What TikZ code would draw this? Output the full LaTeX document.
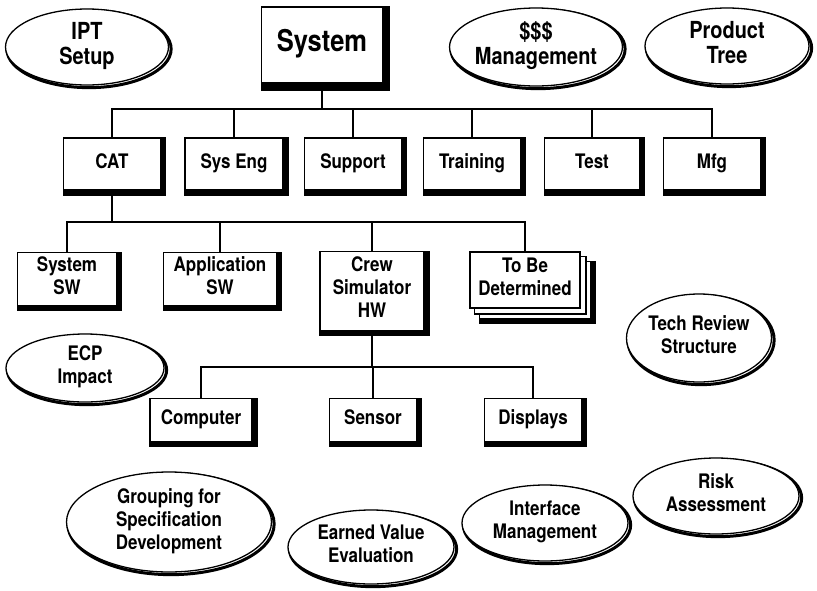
\documentclass[tikz,border=0pt]{standalone}
\usepackage{fontspec}
\setmainfont{TeX Gyre Heros}[FakeStretch=0.85]
\usetikzlibrary{shapes.geometric, backgrounds, calc}

\begin{document}
\begin{tikzpicture}[
            x=1pt, y=-1pt,
            box/.style={
                    rectangle,
                    line width=1.6pt,
                    draw=black,
                    fill=white,
                    align=center,
                    font=\bfseries\fontsize{20}{23}\selectfont,
                    execute at begin node=\strut,
                    execute at end node=\strut,
                    inner sep=0pt
                },
            sheet/.style={
                    fill=white,
                    draw=black,
                    line width=1.4pt
                },
            shadowline/.style={
                    draw=black,
                    line width=#1
                },
            oval/.style={
                    ellipse,
                    line width=1.3pt,
                    draw=black,
                    fill=white,
                    align=center,
                    font=\bfseries\fontsize{20}{23}\selectfont,
                    execute at begin node=\strut,
                    execute at end node=\strut,
                    inner sep=0pt
                },
            bigoval/.style={
                    oval,
                    font=\bfseries\fontsize{23.5}{25}\selectfont
                },
            line/.style={
                    draw,
                    line width=1.6pt
                }
        ]
        \useasboundingbox (0,0) rectangle (817,590);

        % Top
        \node [box, minimum width=121pt, minimum height=76pt,
               font=\bfseries\fontsize{30}{32}\selectfont] (sys) at (322,45) {System};

        % Level 2
        \node [box, minimum width=97pt, minimum height=52pt] (cat) at (112,164) {CAT};
        \node [box, minimum width=98pt, minimum height=52pt] (seng) at (234,164) {Sys Eng};
        \node [box, minimum width=97pt, minimum height=52pt] (sup) at (353,164) {Support};
        \node [box, minimum width=97pt, minimum height=52pt] (trn) at (472,164) {Training};
        \node [box, minimum width=95pt, minimum height=52pt] (tst) at (592,164) {Test};
        \node [box, minimum width=97pt, minimum height=52pt] (mfg) at (712,164) {Mfg};

        % Level 3
        \node [box, minimum width=99pt, minimum height=53pt] (ssw) at (67,279) {System\\SW};
        \node [box, minimum width=113pt, minimum height=53pt] (asw) at (220,279) {Application\\SW};
        \node [box, minimum width=104pt, minimum height=79pt] (crew) at (372,291) {Crew\\Simulator\\HW};
        \node [box, minimum width=110pt, minimum height=56pt] (tbd) at (525,280) {To Be\\Determined};

        % Level 4
        \node [box, minimum width=102pt, minimum height=43pt] (comp) at (201,420) {Computer};
        \node [box, minimum width=87pt, minimum height=43pt] (sens) at (373,420) {Sensor};
        \node [box, minimum width=97pt, minimum height=43pt] (disp) at (533,420) {Displays};

        % Ovals
        \node [bigoval, minimum width=163pt, minimum height=76pt] (ipt) at (87,47) {IPT\\Setup};
        \node [bigoval, minimum width=166pt, minimum height=78pt] (money) at (536,47) {\$\$\$\\Management};
        \node [bigoval, minimum width=164pt, minimum height=76pt] (ptree) at (727,46) {Product\\Tree};
        \node [oval, minimum width=158pt, minimum height=68pt] (ecp) at (85,368) {ECP\\Impact};
        \node [oval, minimum width=145pt, minimum height=88pt] (tech) at (699,338) {Tech Review\\Structure};
        \node [oval, minimum width=205pt, minimum height=100pt] (group) at (169,522) {Grouping for\\Specification\\Development};
        \node [oval, minimum width=166pt, minimum height=74pt] (earned) at (371,547) {Earned Value\\Evaluation};
        \node [oval, minimum width=166pt, minimum height=76pt] (intf) at (545,523) {Interface\\Management};
        \node [oval, minimum width=166pt, minimum height=76pt] (risk) at (716,496) {Risk\\Assessment};

        % Shadows
        \begin{scope}[on background layer]
            \foreach \b/\h/\w in {sys/3.5pt/7pt, cat/2.5pt/5pt, seng/2.5pt/5pt, sup/2.5pt/5pt,
                                  trn/2.5pt/5pt, tst/2.5pt/5pt, mfg/2.5pt/5pt, ssw/2.5pt/5pt,
                                  asw/2.5pt/5pt, crew/2.5pt/5pt, tbd/12.5pt/5pt,
                                  comp/2.5pt/5pt, sens/2.5pt/5pt, disp/2.5pt/5pt}
                \path [shadowline=\w] ([shift={(\h,-\h)}]\b.south west) rectangle ([shift={(\h,-\h)}]\b.north east);
            \foreach \d in {10pt, 5pt}
                \path [sheet] ([shift={(\d,-\d)}]tbd.south west) rectangle ([shift={(\d,-\d)}]tbd.north east);
            \foreach \o in {ipt, money, ptree, ecp, tech, group, earned, intf, risk}
                \path [shadowline=3pt] let \p0=(\o.center), \p1=(\o.east), \p2=(\o.north) in
                    ([shift={(2pt,-2pt)}]\o.center) ellipse [x radius={\x1-\x0}, y radius={\y2-\y0}];
        \end{scope}

        % Buses
        \coordinate (bus1) at (0,109);
        \coordinate (bus2) at (0,222);
        \coordinate (bus3) at (0,367);

        % Tree lines
        \path [line] (sys.south) -- (sys.south |- bus1);
        \path [line] (cat.north) -- (cat.north |- bus1) -| (mfg.north);
        \foreach \b in {seng, sup, trn, tst}
            \path [line] (\b.north) -- (\b.north |- bus1);

        \path [line] (cat.south) -- (cat.south |- bus2);
        \path [line] (ssw.north) -- (ssw.north |- bus2) -| (tbd.north);
        \foreach \b in {asw, crew}
            \path [line] (\b.north) -- (\b.north |- bus2);

        \path [line] (crew.south) -- (crew.south |- bus3);
        \path [line] (comp.north) -- (comp.north |- bus3) -| (disp.north);
        \path [line] (sens.north) -- (sens.north |- bus3);
    \end{tikzpicture}
\end{document}
